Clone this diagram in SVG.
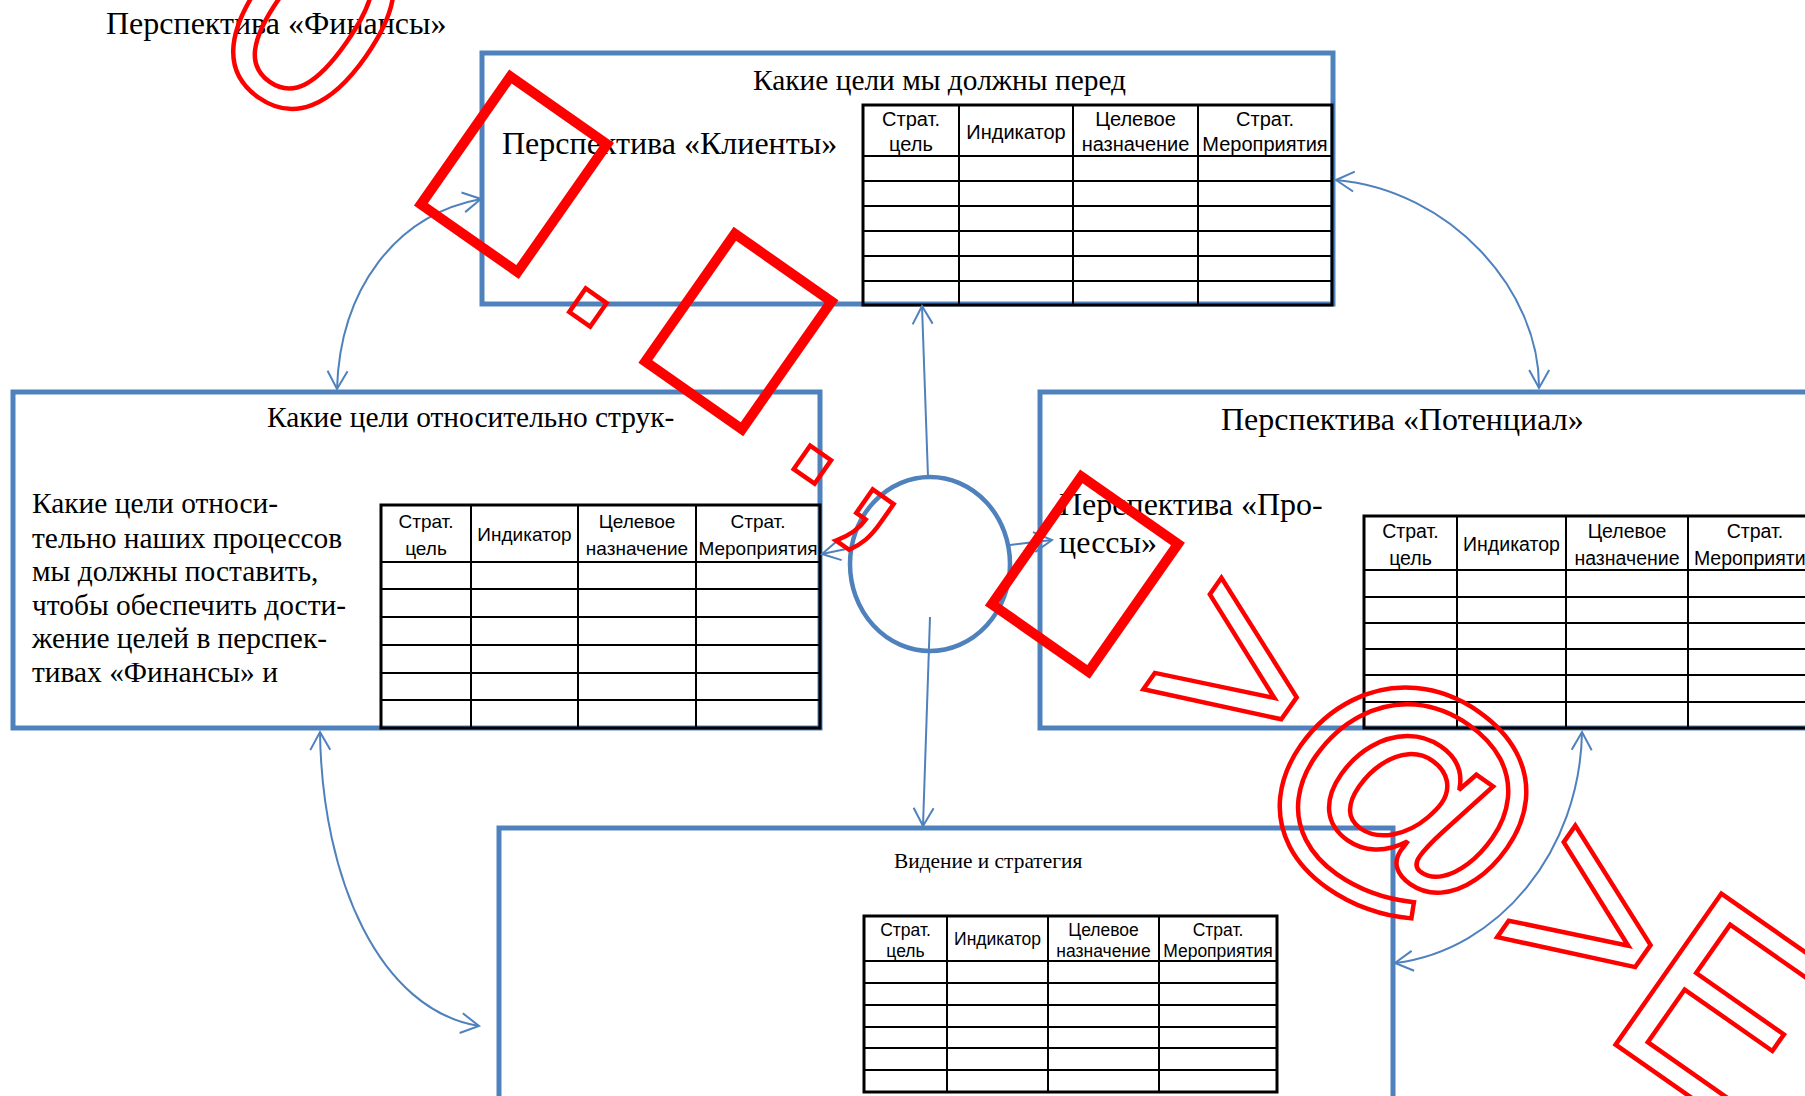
<svg xmlns="http://www.w3.org/2000/svg" width="1805" height="1096" viewBox="0 0 1805 1096">
  <defs>
    <style>
      .box { fill: #FFFFFF; stroke: #4F81BD; stroke-width: 5; }
      .hub { fill: none; stroke: #4F81BD; stroke-width: 4.5; }
      .grid { fill: none; stroke: #000000; stroke-width: 2; }
      .grid .frame { stroke-width: 3; }
      .serif { font-family: "Liberation Serif", "Times New Roman", serif; fill: #000000; }
      .big { font-size: 29.4px; }
      .persp { font-size: 32px; }
      .th { font-family: "Liberation Sans", Arial, sans-serif; text-anchor: middle; fill: #000000; }
      .conn { fill: none; stroke: #4F81BD; stroke-width: 2; }
      .wm text { font-family: "Liberation Sans", Arial, sans-serif; font-size: 268px; fill: none; stroke: #FF0000; stroke-width: 4.5; text-anchor: middle; }
      .wm rect { fill: none; stroke: #FF0000; stroke-width: 10; }
    </style>
    <marker id="arrow" viewBox="-20 -12 24 24" refX="0" refY="0" markerWidth="24" markerHeight="24" markerUnits="userSpaceOnUse" orient="auto-start-reverse">
      <path d="M-18,-10 L0,0 L-18,10" fill="none" stroke="#4F81BD" stroke-width="2"/>
    </marker>
  </defs>

  <rect width="1805" height="1096" fill="#FFFFFF"/>

  <!-- floating heading -->
  <g id="label-finance">
    <text class="serif persp" x="106" y="34">Перспектива «Финансы»</text>
  </g>

  <!-- Customers perspective -->
  <g id="node-clients">
    <rect class="box" x="482" y="53" width="851" height="251"/>
    <text class="serif big" x="753" y="90">Какие цели мы должны перед</text>
    <text class="serif persp" x="502" y="154">Перспектива «Клиенты»</text>
    <g class="grid">
      <rect class="frame" x="863" y="105" width="469" height="200"/>
      <path d="M959,105V305M1073,105V305M1198,105V305"/>
      <path d="M863,156H1332M863,181H1332M863,206H1332M863,231H1332M863,256H1332M863,281H1332"/>
    </g>
    <g class="th" font-size="20">
      <text x="911" y="126">Страт.</text><text x="911" y="151">цель</text>
      <text x="1016" y="139">Индикатор</text>
      <text x="1135.5" y="126">Целевое</text><text x="1135.5" y="151">назначение</text>
      <text x="1265" y="126">Страт.</text><text x="1265" y="151">Мероприятия</text>
    </g>
  </g>

  <!-- Internal processes perspective -->
  <g id="node-processes">
    <rect class="box" x="13" y="392" width="807" height="336"/>
    <text class="serif big" x="267" y="427">Какие цели относительно струк-</text>
    <text class="serif big" x="32" y="513">Какие цели относи-</text>
    <text class="serif big" x="32" y="548">тельно наших процессов</text>
    <text class="serif big" x="32" y="581">мы должны поставить,</text>
    <text class="serif big" x="32" y="615">чтобы обеспечить дости-</text>
    <text class="serif big" x="32" y="648">жение целей в перспек-</text>
    <text class="serif big" x="32" y="682">тивах «Финансы» и</text>
    <g class="grid">
      <rect class="frame" x="381" y="505" width="439" height="223"/>
      <path d="M471,505V728M578,505V728M696,505V728"/>
      <path d="M381,562H820M381,589H820M381,617H820M381,645H820M381,673H820M381,700H820"/>
    </g>
    <g class="th" font-size="19">
      <text x="426" y="528">Страт.</text><text x="426" y="555">цель</text>
      <text x="524.5" y="541">Индикатор</text>
      <text x="637" y="528">Целевое</text><text x="637" y="555">назначение</text>
      <text x="758" y="528">Страт.</text><text x="758" y="555">Мероприятия</text>
    </g>
  </g>

  <!-- Learning and growth perspective -->
  <g id="node-potential">
    <rect class="box" x="1040" y="392" width="800" height="336"/>
    <text class="serif persp" x="1221" y="430">Перспектива «Потенциал»</text>
    <text class="serif persp" x="1059" y="515">Перспектива «Про-</text>
    <text class="serif persp" x="1059" y="553">цессы»</text>
    <g class="grid">
      <rect class="frame" x="1364" y="516" width="458" height="212"/>
      <path d="M1457,516V728M1566,516V728M1688,516V728"/>
      <path d="M1364,570H1822M1364,597H1822M1364,623H1822M1364,649H1822M1364,675H1822M1364,702H1822"/>
    </g>
    <g class="th" font-size="19.5">
      <text x="1410.5" y="538">Страт.</text><text x="1410.5" y="565">цель</text>
      <text x="1511.5" y="551">Индикатор</text>
      <text x="1627" y="538">Целевое</text><text x="1627" y="565">назначение</text>
      <text x="1755" y="538">Страт.</text><text x="1755" y="565">Мероприятия</text>
    </g>
  </g>

  <!-- Vision and strategy -->
  <g id="node-vision">
    <rect class="box" x="499" y="828" width="894" height="280"/>
    <text class="serif" font-size="21.4" x="894" y="868">Видение и стратегия</text>
    <g class="grid">
      <rect class="frame" x="864" y="916" width="413" height="176"/>
      <path d="M947,916V1092M1048,916V1092M1159,916V1092"/>
      <path d="M864,961H1277M864,983H1277M864,1005H1277M864,1027H1277M864,1048H1277M864,1070H1277"/>
    </g>
    <g class="th" font-size="17.5">
      <text x="905.5" y="936">Страт.</text><text x="905.5" y="957">цель</text>
      <text x="997.5" y="945">Индикатор</text>
      <text x="1103.5" y="936">Целевое</text><text x="1103.5" y="957">назначение</text>
      <text x="1218" y="936">Страт.</text><text x="1218" y="957">Мероприятия</text>
    </g>
  </g>

  <!-- central hub -->
  <g id="node-hub">
    <ellipse class="hub" cx="930" cy="564" rx="80" ry="87"/>
  </g>

  <!-- connectors -->
  <g id="connectors" class="conn">
    <path d="M928,477 L922,306" marker-end="url(#arrow)"/>
    <path d="M930,617 L923,826" marker-end="url(#arrow)"/>
    <path d="M851,548 L822,554" marker-end="url(#arrow)"/>
    <path d="M1010,545 L1052,540" marker-end="url(#arrow)"/>
    <path d="M337,389 C340,290 395,215 481,199" marker-start="url(#arrow)" marker-end="url(#arrow)"/>
    <path d="M1336,180 C1450,190 1540,290 1539,388" marker-start="url(#arrow)" marker-end="url(#arrow)"/>
    <path d="M320,732 C322,880 380,1010 479,1026" marker-start="url(#arrow)" marker-end="url(#arrow)"/>
    <path d="M1582,732 C1580,850 1500,950 1395,963" marker-start="url(#arrow)" marker-end="url(#arrow)"/>
  </g>

  <!-- red outlined stamp running diagonally across the sheet -->
  <g id="stamp" class="wm" transform="rotate(35)">
    <text x="268" y="-71" font-size="285">0</text>
    <rect x="462" y="-230" width="118" height="156"/>
    <text x="658" y="-71">.</text>
    <rect x="736" y="-230" width="118" height="156"/>
    <text x="932" y="-71">.</text>
    <text x="1008" y="-71">,</text>
    <rect x="1159" y="-230" width="118" height="156"/>
    <text x="1397" y="-71">&gt;</text>
    <text x="1608" y="-71">@</text>
    <text x="1829" y="-71">&gt;</text>
    <text x="1990" y="-71">E</text>
  </g>
</svg>
